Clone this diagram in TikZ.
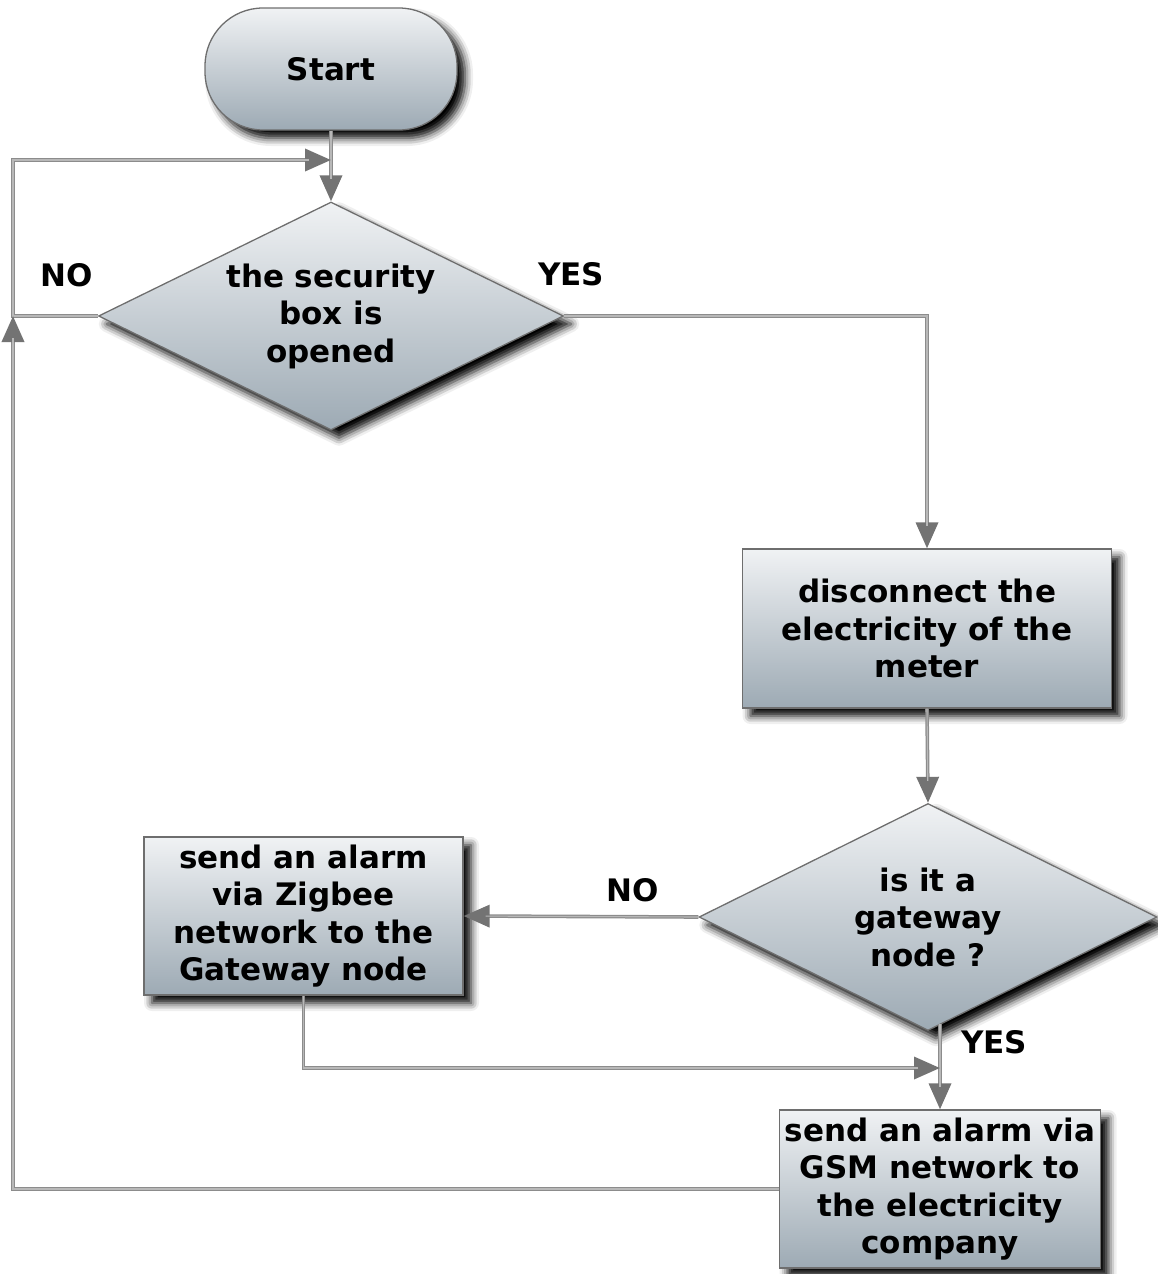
\documentclass[tikz,border=0pt]{standalone}
\usepackage{fontspec}
\setmainfont{DejaVu Sans}
\usetikzlibrary{shapes.geometric,arrows.meta,shadows.blur,calc}
\definecolor{boxtop}{HTML}{F0F2F4}
\definecolor{boxbot}{HTML}{9DAAB4}
\definecolor{edge}{HTML}{6E6E6E}
\definecolor{wire}{HTML}{8C8C8C}
\definecolor{wirein}{HTML}{B8B8B8}
\begin{document}
\begin{tikzpicture}[x=1pt,y=-1pt,
  base/.style={draw=edge, line width=1.3pt, top color=boxtop, bottom color=boxbot,
    blur shadow={shadow xshift=8pt, shadow yshift=-8pt, shadow blur radius=8pt, shadow opacity=100},
    font=\fontsize{31}{37.5}\selectfont\bfseries, align=center, inner sep=0pt},
  terminal/.style={base, rectangle, rounded corners=58pt, minimum width=252pt, minimum height=122pt},
  decision/.style={base, diamond, aspect=2},
  process/.style={base, rectangle},
  arrow/.style={draw=wire, line width=3.6pt,
    -{Triangle[length=26pt,width=22pt,fill=black!55,color=black!55]},
    postaction={draw=wirein, line width=1.1pt, -, shorten >=22pt}},
  lbl/.style={font=\fontsize{31}{37.5}\selectfont\bfseries, inner sep=0pt}
]
\useasboundingbox (0,0) rectangle (1158,1274);

% nodes
\node[terminal] (start) at (331,69) {Start};
\node[decision, minimum width=465pt, minimum height=228pt] (d1) at (331,316)
  {the security\\box is\\opened};
\node[process, minimum width=369pt, minimum height=159pt] (b1) at (927,628.5)
  {disconnect the\\electricity of the\\meter};
\node[decision, minimum width=458pt, minimum height=227pt] (d2) at (928,917)
  {is it a\\gateway\\node ?};
\node[process, minimum width=319pt, minimum height=158pt] (b2) at (303.5,916)
  {send an alarm\\via Zigbee\\network to the\\Gateway node};
\node[process, minimum width=321pt, minimum height=158pt] (b3) at (940,1189)
  {send an alarm via\\GSM network to\\the electricity\\company};

% branch labels
\node[lbl] (noA) at (67,275) {NO};
\node[lbl] (yesA) at (571,274) {YES};
\node[lbl] (noB) at (633,890) {NO};
\node[lbl] (yesB) at (994,1042) {YES};

% junction points
\coordinate (rail) at (13,316);
\coordinate (loopin) at (331,160);
\coordinate (merge) at (940,1068);

% connectors
\draw[arrow] (start.south) -- (d1.north);
\draw[arrow] (d1.west) -- (rail) |- (loopin);
\draw[arrow] (b3.west) -| (rail);
\draw[arrow] (d1.east) -| (b1.north);
\draw[arrow] (b1.south) -- (d2.north);
\draw[arrow] (d2.west) -- (b2.east);
\draw[arrow] ($(d2.south -| b3.north)+(0,-7)$) -- (b3.north);
\draw[arrow] (b2.south) |- (merge);
\end{tikzpicture}
\end{document}
